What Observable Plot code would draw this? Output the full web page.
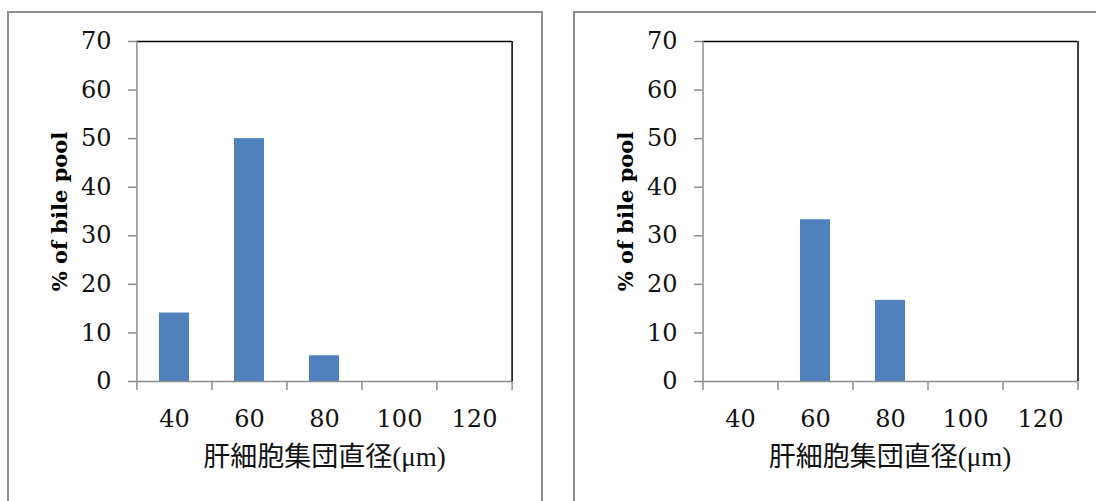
<!DOCTYPE html>
<html><head><meta charset="utf-8">
<script src="https://cdn.jsdelivr.net/npm/d3@7"></script>
<script src="https://cdn.jsdelivr.net/npm/@observablehq/plot@0.6"></script>
<style>
body{margin:0;background:#fff;}
#wrap{position:relative;width:1096px;height:501px;overflow:hidden;background:#fff;}
.panel{position:absolute;border:2px solid #8e8e8e;box-sizing:border-box;z-index:2;}
.chart{position:absolute;top:0;z-index:1;}
</style></head><body><div id="wrap">
<div class="panel" style="left:7px;top:11px;width:536px;height:560px"></div>
<div class="panel" style="left:573px;top:11px;width:600px;height:560px"></div>
<div id="c1" class="chart" style="left:0px"></div>
<div id="c2" class="chart" style="left:566px"></div>
</div>
<script>
const categories = ["40", "60", "80", "100", "120"];
const leftValues = [14.1, 50, 5.3, 0, 0];
const rightValues = [0, 33.3, 16.7, 0, 0];
const yTicks = [0, 10, 20, 30, 40, 50, 60, 70];
const yLabel = "% of bile pool";
const xLabel = "肝細胞集団直径(μm)";

const serif = "'DejaVu Serif', 'Noto Sans CJK JP', serif";
const cjk = "'Liberation Serif', 'Noto Sans CJK JP', serif";
const gray = "#8c8c8c";

function makeChart(values, width, marginRight) {
  const marginLeft = 136;
  const step = (width - marginLeft - marginRight) / categories.length;
  const data = categories.map((c, i) => ({cat: c, value: values[i]}));
  return Plot.plot({
    width, height: 501,
    marginLeft, marginRight, marginTop: 41, marginBottom: 120,
    style: {background: "transparent", color: "#111", fontFamily: serif, overflow: "visible"},
    x: {type: "band", domain: categories, paddingInner: 0.6, paddingOuter: 0.3, align: 0.5, label: null},
    y: {domain: [0, 70], label: null},
    marks: [
      Plot.barY(data.filter(d => d.value > 0), {x: "cat", y: "value", fill: "#4f81bd"}),
      Plot.ruleY([0], {stroke: gray, strokeWidth: 1.5}),
      Plot.ruleY([70], {stroke: "#000", strokeWidth: 1.5}),
      Plot.ruleX([categories[0]], {dx: -step / 2, stroke: gray, strokeWidth: 1.5}),
      Plot.ruleX([categories[categories.length - 1]], {dx: step / 2, stroke: "#000", strokeWidth: 1.5}),
      Plot.axisX({tickSize: 9, tickFormat: () => "", dx: -step / 2, stroke: gray, strokeWidth: 1.5, label: null}),
      Plot.axisX([categories[categories.length - 1]], {tickSize: 9, tickFormat: () => "", dx: step / 2, stroke: gray, strokeWidth: 1.5, label: null}),
      Plot.axisX({tickSize: 0, tickPadding: 28, fontSize: 24, fontFamily: serif, fill: "#111", label: null}),
      Plot.axisY({ticks: yTicks, tickSize: 8, tickPadding: 17, stroke: gray, strokeWidth: 1.5, fontSize: 24, fontFamily: serif, fill: "#111", label: null}),
      Plot.text([yLabel], {text: d => d, frameAnchor: "left", dx: -76, rotate: -90, textAnchor: "middle", lineAnchor: "middle", fontWeight: "bold", fontSize: 21, fontFamily: serif, fill: "#000"}),
      Plot.text([xLabel], {text: d => d, frameAnchor: "bottom", dy: 76, textAnchor: "middle", lineAnchor: "middle", fontSize: 27, fontFamily: cjk, fill: "#111"})
    ]
  });
}

document.getElementById("c1").append(makeChart(leftValues, 560, 48));
document.getElementById("c2").append(makeChart(rightValues, 530, 19));
</script>
</body></html>
